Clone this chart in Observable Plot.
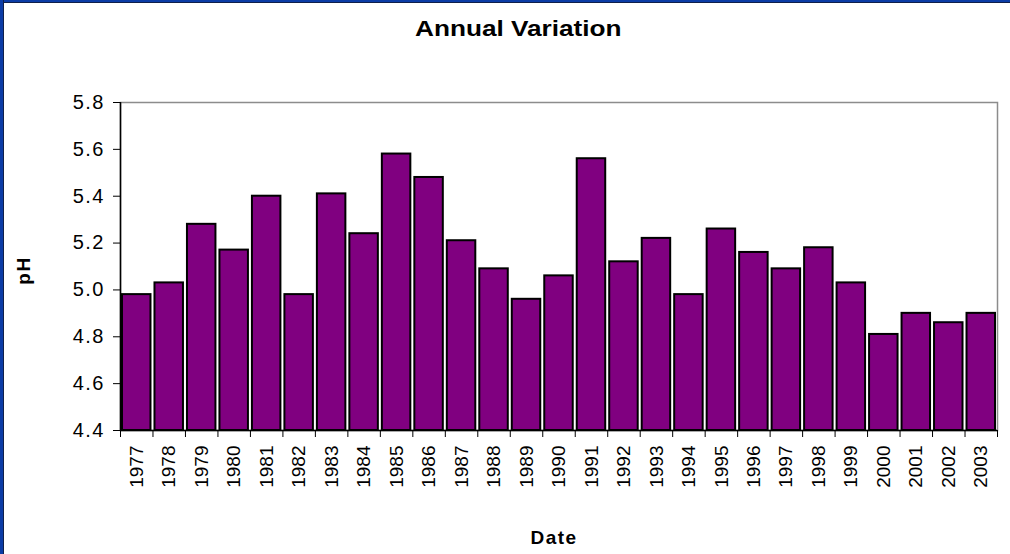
<!DOCTYPE html>
<html>
<head>
<meta charset="utf-8">
<script src="https://cdn.jsdelivr.net/npm/d3@7"></script>
<script src="https://cdn.jsdelivr.net/npm/@observablehq/plot@0.6"></script>
<style>
  html, body { margin: 0; padding: 0; background: #fff; }
  #wrap { position: relative; width: 1010px; height: 554px; overflow: hidden; background: #fff; font-family: "Liberation Sans", Arial, sans-serif; }
  #title { position: absolute; top: 16px; left: 415px; font-weight: bold; font-size: 22px; color: #000; transform: scaleX(1.19); transform-origin: left top; white-space: nowrap; }
  #bl { position: absolute; left: 0; top: 0; width: 3px; height: 554px; background: #0b3ca6; border-right: 1px solid #10204a; }
  #bt { position: absolute; left: 0; top: 0; width: 1010px; height: 2px; background: #0b3ca6; border-bottom: 1px solid #10204a; }
  #chart { position: absolute; left: 0; top: 0; }
</style>
</head>
<body>
<div id="wrap">
  <div id="chart"></div>
  <div id="title">Annual Variation</div>
  <div id="bt"></div>
  <div id="bl"></div>
</div>
<script>
const years = ["1977","1978","1979","1980","1981","1982","1983","1984","1985","1986","1987","1988","1989","1990","1991","1992","1993","1994","1995","1996","1997","1998","1999","2000","2001","2002","2003"];
const phValues = [4.98,5.03,5.28,5.17,5.40,4.98,5.41,5.24,5.58,5.48,5.21,5.09,4.96,5.06,5.56,5.12,5.22,4.98,5.26,5.16,5.09,5.18,5.03,4.81,4.90,4.86,4.90];
const yTicks = [4.4,4.6,4.8,5.0,5.2,5.4,5.6,5.8];
const yMin = 4.4, yMax = 5.8;

const data = years.map((y, i) => ({year: y, i, value: phValues[i]}));
const n = years.length;

const chart = Plot.plot({
  width: 1010,
  height: 554,
  marginLeft: 120,
  marginRight: 13,
  marginTop: 102,
  marginBottom: 124,
  style: {fontFamily: "'Liberation Sans', Arial, sans-serif", color: "#000", background: "transparent"},
  x: {type: "linear", domain: [0, n], axis: null},
  y: {domain: [yMin, yMax], axis: null},
  marks: [
    Plot.frame({stroke: "#8c8c8c", strokeWidth: 1.5}),
    Plot.rect(data, {
      x1: d => d.i, x2: d => d.i + 1,
      y1: () => yMin, y2: "value",
      fill: "#800080", stroke: "#000", strokeWidth: 2,
      insetLeft: 2, insetRight: 2
    }),
    Plot.ruleX([0], {stroke: "#000", strokeWidth: 1.5}),
    Plot.ruleY([yMin], {stroke: "#000", strokeWidth: 1.5}),
    Plot.axisY({ticks: yTicks, tickFormat: d3.format(".1f"), tickSize: 7, tickPadding: 8.5, fontSize: 20, label: null, stroke: "#000"}),
    Plot.axisX({ticks: d3.range(n + 1), tickFormat: () => "", tickSize: 7, label: null, stroke: "#000"}),
    Plot.axisX({ticks: d3.range(n).map(i => i + 0.5), tickFormat: d => years[Math.round(d - 0.5)], tickSize: 0, tickPadding: 15, tickRotate: -90, fontSize: 19, label: null}),
    Plot.text(["pH"], {frameAnchor: "left", dx: -97, dy: 4, rotate: -90, fontWeight: "bold", fontSize: 19, lineAnchor: "middle", textAnchor: "middle"}),
    Plot.text(["Date"], {frameAnchor: "bottom", dx: -5, dy: 107, fontWeight: "bold", fontSize: 19, lineAnchor: "middle", textAnchor: "middle"})
  ]
});
d3.select(chart).selectAll("text").each(function() {
  const t = this.textContent.trim();
  if (/^\d\.\d$/.test(t) || t === "pH" || t === "Date") this.setAttribute("letter-spacing", "1.5px");
});
document.getElementById("chart").appendChild(chart);
</script>
</body>
</html>
